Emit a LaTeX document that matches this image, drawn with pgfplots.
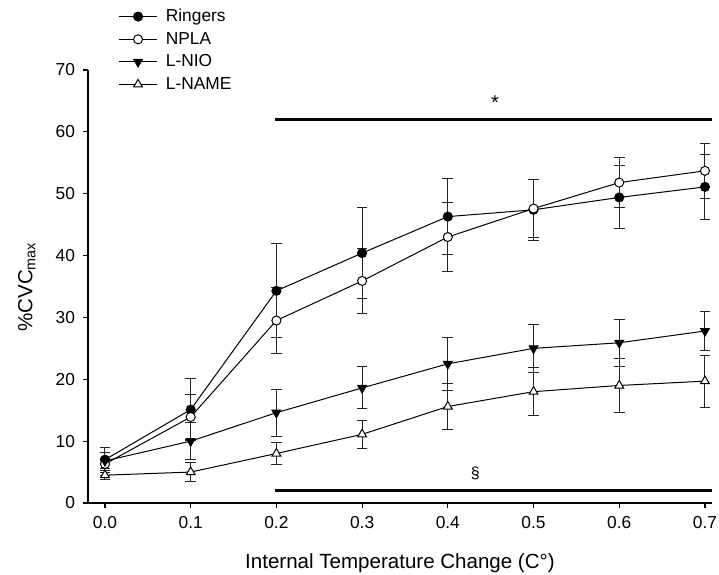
\documentclass[border=0pt]{standalone}
\usepackage{fontspec}
\setmainfont{Liberation Sans}
\usepackage{pgfplots}
\pgfplotsset{compat=1.18}

\pgfplotstableread{
x y e
0.0 7.0 2.0
0.1 15.1 5.0
0.2 34.3 7.6
0.3 40.4 7.3
0.4 46.3 6.2
0.5 47.4 4.9
0.6 49.4 5.1
0.7 51.1 5.3
}\ringers
\pgfplotstableread{
x y e
0.0 6.3 1.8
0.1 13.9 3.6
0.2 29.5 5.3
0.3 35.9 5.3
0.4 43.0 5.6
0.5 47.6 4.7
0.6 51.8 4.1
0.7 53.7 4.4
}\npla
\pgfplotstableread{
x y e
0.0 6.8 1.3
0.1 10.0 3.0
0.2 14.6 3.8
0.3 18.6 3.4
0.4 22.5 4.3
0.5 25.0 3.9
0.6 25.9 3.8
0.7 27.8 3.2
}\lnio
\pgfplotstableread{
x y e
0.0 4.5 0.7
0.1 5.0 1.5
0.2 8.0 1.8
0.3 11.1 2.3
0.4 15.6 3.7
0.5 18.0 3.9
0.6 19.0 4.4
0.7 19.7 4.2
}\lname

\begin{document}
\begin{tikzpicture}
\begin{axis}[
  name=ax,
  scale only axis, width=468pt, height=324.75pt,
  xmin=-0.0198, xmax=0.7082, ymin=0, ymax=70,
  axis x line*=bottom, axis y line*=left,
  axis line style={line width=0.9pt, -},
  xtick={0,0.1,0.2,0.3,0.4,0.5,0.6,0.7},
  ytick={0,10,20,30,40,50,60,70},
  minor tick num=0,
  tick align=outside, major tick length=3.75pt,
  tick style={line width=0.9pt, black},
  /pgf/number format/assume math mode=true,
  ticklabel style={font=\fontsize{13}{15}\selectfont},
  xticklabel style={yshift=-3pt, /pgf/number format/.cd, fixed, fixed zerofill, precision=1},
  yticklabel style={xshift=-2.5pt},
  xlabel={Internal Temperature Change (C°)},
  ylabel={\%CVC\textsubscript{max}},
  label style={font=\fontsize{15.4}{18}\selectfont},
  xlabel style={at={(axis description cs:0.5,-0.1386)}, anchor=center},
  ylabel style={at={(axis description cs:-0.098,0.499)}, anchor=center},
  clip=false,
  legend style={at={(axis description cs:0.048,1.147)}, anchor=north west,
    draw=none, fill=none, font=\fontsize{13}{14}\selectfont,
    row sep=2.4pt, inner sep=0pt, cells={anchor=west},
    nodes={inner xsep=6pt}},
  legend image code/.code={\draw[mark repeat=2,mark phase=2,#1] plot coordinates {(0pt,0pt) (14.5pt,0pt) (29pt,0pt)};},
  eb/.style={line width=0.75pt, black,
    error bars/y dir=both, error bars/y explicit,
    error bars/error bar style={line width=0.75pt, black!85},
    error bars/error mark options={line width=0.75pt, black!85, mark size=4pt, rotate=90}},
]
\addplot[eb, mark=*, mark size=3.4pt, mark options={fill=black, solid}] table[x=x, y=y, y error=e] {\ringers};
\addlegendentry{Ringers}
\addplot[eb, mark=*, mark size=3.4pt, mark options={fill=white, solid}] table[x=x, y=y, y error=e] {\npla};
\addlegendentry{NPLA}
\addplot[eb, mark=triangle*, mark size=3.8pt, mark options={fill=black, rotate=180, solid}] table[x=x, y=y, y error=e] {\lnio};
\addlegendentry{L-NIO}
\addplot[eb, mark=triangle*, mark size=3.8pt, mark options={fill=white, solid}] table[x=x, y=y, y error=e] {\lname};
\addlegendentry{L-NAME}
\addplot[line width=2.6pt, black, forget plot] coordinates {(0.198,62) (0.708,62)};
\addplot[line width=2.6pt, black, forget plot] coordinates {(0.198,2) (0.708,2)};
\node[anchor=base, font=\fontsize{15}{16}\selectfont] at (axis cs:0.455,63.6) {*};
\node[anchor=base, font=\fontsize{12}{13}\selectfont] at (axis cs:0.432,3.9) {§};
\end{axis}
\pgfresetboundingbox
\path[use as bounding box] ([shift={(-66pt,-54pt)}]ax.south west) rectangle ([shift={(473.25pt,377.25pt)}]ax.south west);
\end{tikzpicture}
\end{document}
